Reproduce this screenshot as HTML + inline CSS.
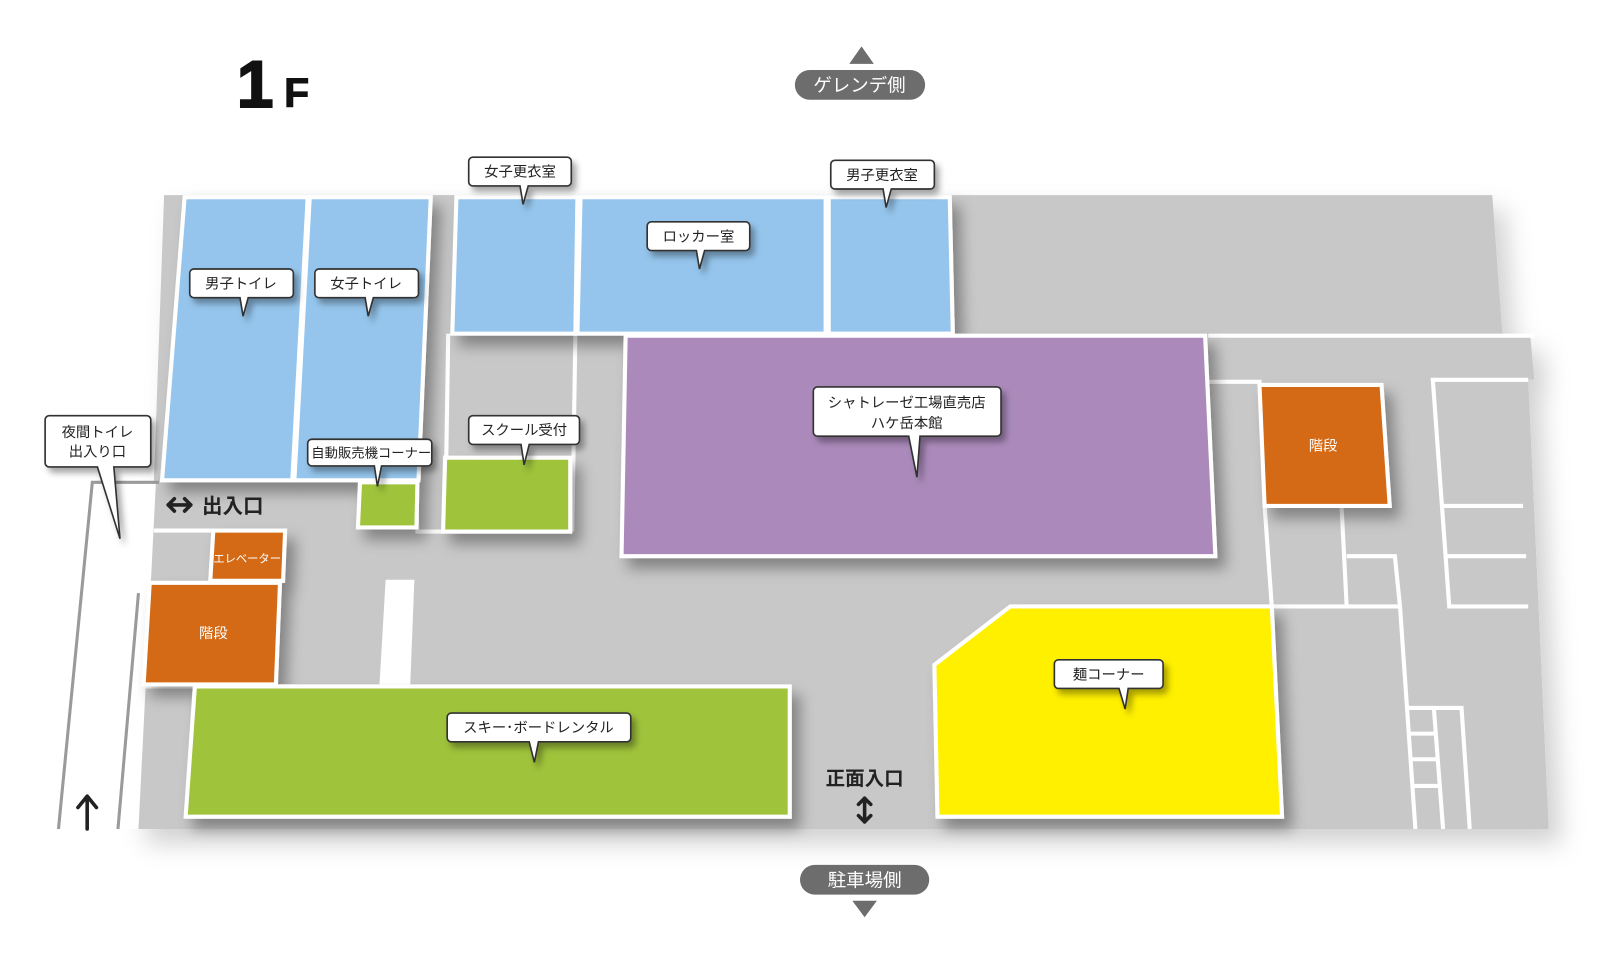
<!DOCTYPE html>
<html><head><meta charset="utf-8"><style>
html,body{margin:0;padding:0;background:#fff;}
svg{display:block;}
text{font-family:"Liberation Sans","Noto Sans CJK JP",sans-serif;}
</style></head><body>
<svg width="1600" height="978" viewBox="0 0 1560 953" xmlns="http://www.w3.org/2000/svg">
<defs>
<filter id="sh" x="-10%" y="-10%" width="130%" height="130%"><feDropShadow dx="8" dy="10" stdDeviation="7" flood-color="#000" flood-opacity="0.35"/></filter>
<filter id="fs" x="-10%" y="-10%" width="130%" height="130%"><feDropShadow dx="12" dy="14" stdDeviation="12" flood-color="#000" flood-opacity="0.18"/></filter>
<filter id="cs" x="-20%" y="-20%" width="150%" height="160%"><feDropShadow dx="4" dy="5" stdDeviation="3" flood-color="#000" flood-opacity="0.35"/></filter>
</defs>

<polygon filter="url(#fs)" fill="#c8c8c8" points="160,190 1455,190 1465,327 1492,327 1496,370 1490,370 1510,808 130,808 150,470 160,190"/>
<polygon fill="#fff" points="90,470 152,470 135,808 57,808"/>
<g stroke="#9a9a9a" stroke-width="3" fill="none">
<polyline points="155,470 90,470 57,808"/>
<line x1="135" y1="578" x2="115" y2="808"/>
</g>
<g stroke="#fff" stroke-width="4" fill="none">
<line x1="437" y1="325" x2="434" y2="518"/>
<line x1="561" y1="325" x2="558" y2="518"/>
<polyline points="405,470 407,518 434,518"/>
<polyline points="1175,372 1230,372"/>
<line x1="1178" y1="327" x2="1496" y2="327"/>
<polyline points="1233,493 1240,591"/>
<polyline points="1308,493 1313,591"/>
<polyline points="1313,542 1360,542 1365,591"/>
<line x1="1240" y1="591" x2="1365" y2="591"/>
<polyline points="1365,591 1380,808"/>
<polyline points="1490,370 1397,370 1413,591 1490,591"/>
<line x1="1407" y1="493" x2="1485" y2="493"/>
<line x1="1410" y1="542" x2="1488" y2="542"/>
<polyline points="1373,690 1425,690 1433,808"/>
<line x1="1398" y1="690" x2="1407" y2="808"/>
<line x1="1375" y1="715" x2="1400" y2="715"/>
<line x1="1376" y1="740" x2="1401" y2="740"/>
<line x1="1377" y1="766" x2="1403" y2="766"/>
<line x1="150" y1="517" x2="208" y2="517"/>
<line x1="135" y1="669" x2="190" y2="669"/>
</g>
<polygon fill="#fff" points="376,565 404,565 400,667 370,667"/>

<g stroke="#fff" stroke-width="4" filter="url(#sh)">
<polygon fill="#95c5ec" points="180,192 300,192 285,468 158,468"/>
<polygon fill="#95c5ec" points="302,192 420,192 408,468 287,468"/>
<polygon fill="#95c5ec" points="445,192 563,192 561,325 441,325"/>
<polygon fill="#95c5ec" points="566,192 805,192 805,325 563,325"/>
<polygon fill="#95c5ec" points="808,192 926,192 929,325 808,325"/>
<polygon fill="#ab8abb" points="610,327 1175,327 1185,542 606,542"/>
<polygon fill="#9fc33a" points="434,446 556,446 556,518 432,518"/>
<polygon fill="#9fc33a" points="351,470 407,470 406,514 349,514"/>
<polygon fill="#d46b15" points="208,517 278,517 276,566 205,566"/>
<polygon fill="#d46b15" points="146,568 273,568 269,667 140,667"/>
<polygon fill="#9fc33a" points="190,669 770,669 770,796 181,796"/>
<polygon fill="#fff000" points="985,591 1240,591 1250,796 914,796 911,648"/>
<polygon fill="#d46b15" points="1228,375 1347,375 1355,493 1233,493"/>
</g>

<g fill="#fff" font-size="14" text-anchor="middle">
<text x="241" y="548" font-size="11">エレベーター</text>
<text x="208" y="622">階段</text>
<text x="1290" y="439">階段</text>
</g>

<g stroke="#333" stroke-width="1.6" fill="#fff" filter="url(#cs)">
<path d="M189,262 h93 a4,4 0 0 1 4,4 v20 a4,4 0 0 1 -4,4 h-40 l-5,18 l-3,-18 h-45 a4,4 0 0 1 -4,-4 v-20 a4,4 0 0 1 4,-4z"/>
<path d="M311,262 h93 a4,4 0 0 1 4,4 v20 a4,4 0 0 1 -4,4 h-40 l-5,18 l-3,-18 h-45 a4,4 0 0 1 -4,-4 v-20 a4,4 0 0 1 4,-4z"/>
<path d="M461,153 h92 a4,4 0 0 1 4,4 v20 a4,4 0 0 1 -4,4 h-38 l-5,18 l-3,-18 h-46 a4,4 0 0 1 -4,-4 v-20 a4,4 0 0 1 4,-4z"/>
<path d="M814,156 h93 a4,4 0 0 1 4,4 v20 a4,4 0 0 1 -4,4 h-38 l-5,18 l-3,-18 h-47 a4,4 0 0 1 -4,-4 v-20 a4,4 0 0 1 4,-4z"/>
<path d="M635,216 h92 a4,4 0 0 1 4,4 v20 a4,4 0 0 1 -4,4 h-40 l-5,18 l-3,-18 h-44 a4,4 0 0 1 -4,-4 v-20 a4,4 0 0 1 4,-4z"/>
<path d="M797,377 h175 a4,4 0 0 1 4,4 v40 a4,4 0 0 1 -4,4 h-75 l-3,40 l-8,-40 h-89 a4,4 0 0 1 -4,-4 v-40 a4,4 0 0 1 4,-4z"/>
<path d="M461,405 h100 a4,4 0 0 1 4,4 v20 a4,4 0 0 1 -4,4 h-45 l-5,20 l-3,-20 h-47 a4,4 0 0 1 -4,-4 v-20 a4,4 0 0 1 4,-4z"/>
<path d="M304,428 h113 a4,4 0 0 1 4,4 v18 a4,4 0 0 1 -4,4 h-45 l-4,20 l-3,-20 h-61 a4,4 0 0 1 -4,-4 v-18 a4,4 0 0 1 4,-4z"/>
<path d="M48,405 h95 a4,4 0 0 1 4,4 v42 a4,4 0 0 1 -4,4 h-32 l6,70 l-22,-70 h-47 a4,4 0 0 1 -4,-4 v-42 a4,4 0 0 1 4,-4z"/>
<path d="M440,695 h171 a4,4 0 0 1 4,4 v20 a4,4 0 0 1 -4,4 h-86 l-4,20 l-5,-20 h-76 a4,4 0 0 1 -4,-4 v-20 a4,4 0 0 1 4,-4z"/>
<path d="M1032,643 h98 a4,4 0 0 1 4,4 v20 a4,4 0 0 1 -4,4 h-30 l-3,20 l-6,-20 h-59 a4,4 0 0 1 -4,-4 v-20 a4,4 0 0 1 4,-4z"/>
</g>
<g fill="#222" font-size="14" text-anchor="middle">
<text x="235" y="281">男子トイレ</text>
<text x="357" y="281">女子トイレ</text>
<text x="507" y="172">女子更衣室</text>
<text x="860" y="175">男子更衣室</text>
<text x="681" y="235">ロッカー室</text>
<text x="884" y="397">シャトレーゼ工場直売店</text>
<text x="884" y="417">ハケ岳本館</text>
<text x="511" y="424">スクール受付</text>
<text x="362" y="446" font-size="13">自動販売機コーナー</text>
<text x="95" y="426">夜間トイレ</text>
<text x="95" y="445">出入り口</text>
<text x="525" y="714">スキー･ボードレンタル</text>
<text x="1081" y="662">麺コーナー</text>
</g>

<!-- arrows -->
<g stroke="#222" stroke-width="3.5" fill="none" stroke-linecap="round" stroke-linejoin="round">
<line x1="164" y1="492" x2="186" y2="492"/>
<polyline points="170,486 164,492 170,498"/>
<polyline points="180,486 186,492 180,498"/>
<line x1="843" y1="778" x2="843" y2="801"/>
<polyline points="837,784 843,778 849,784"/>
<polyline points="837,795 843,801 849,795"/>
<line x1="85" y1="778" x2="85" y2="808"/>
<polyline points="76,787 85,776 94,787"/>
</g>
<text x="197" y="500" font-size="20" font-weight="bold" fill="#222">出入口</text>
<text x="843" y="765" font-size="19" font-weight="bold" fill="#222" text-anchor="middle">正面入口</text>

<text x="231" y="104" font-size="64" font-weight="bold" fill="#111" font-family="Liberation Sans" stroke="#111" stroke-width="2">1</text>
<text x="277" y="104" font-size="40" font-weight="bold" fill="#111" font-family="Liberation Sans" stroke="#111" stroke-width="1">F</text>

<polygon fill="#6d6d6d" points="840,45 852,62 828,62"/>
<rect x="775" y="68" width="127" height="29" rx="14.5" fill="#6d6d6d"/>
<text x="838" y="89" font-size="18" fill="#fff" text-anchor="middle">ゲレンデ側</text>
<rect x="780" y="843" width="126" height="29" rx="14.5" fill="#6d6d6d"/>
<text x="843" y="864" font-size="18" fill="#fff" text-anchor="middle">駐車場側</text>
<polygon fill="#6d6d6d" points="831,878 855,878 843,894"/>
</svg>
</body></html>
